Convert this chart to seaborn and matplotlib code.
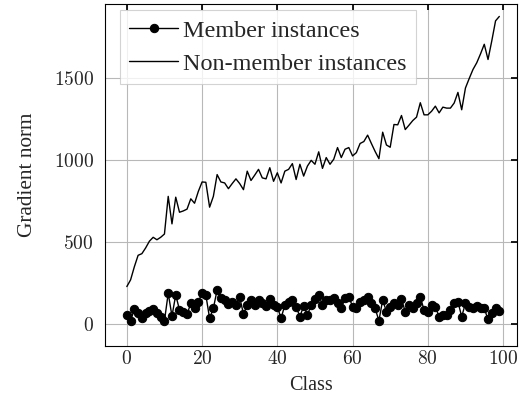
import numpy as np
import pandas as pd
import matplotlib
matplotlib.use("Agg")
import matplotlib.pyplot as plt
import seaborn as sns
from matplotlib.ticker import FuncFormatter

classes = list(range(100))
member = [55, 20, 90, 70, 40, 70, 80, 95, 65, 45,
          20, 188, 49, 178, 86, 76, 59, 127, 100, 137,
          188, 178, 35, 96, 209, 158, 150, 123, 137, 117,
          164, 61, 117, 150, 117, 150, 127, 111, 152, 117,
          106, 35, 117, 137, 147, 106, 45, 111, 55, 117,
          152, 178, 117, 147, 147, 158, 127, 96, 158, 168,
          106, 96, 137, 147, 164, 127, 96, 20, 147, 76,
          106, 127, 117, 152, 76, 117, 96, 127, 165, 86,
          76, 117, 106, 45, 55, 55, 86, 127, 137, 45,
          127, 106, 96, 111, 96, 96, 28, 66, 96, 80]
nonmember = [229, 270, 350, 420, 430, 465, 506, 530, 515, 530,
             550, 780, 612, 775, 683, 691, 702, 765, 738, 810,
             868, 866, 714, 780, 913, 868, 862, 827, 858, 887,
             858, 821, 934, 877, 910, 945, 893, 887, 955, 872,
             924, 862, 934, 945, 980, 883, 976, 904, 965, 1000,
             976, 1052, 951, 1017, 976, 1007, 1078, 1017, 1068, 1078,
             1027, 1047, 1103, 1115, 1154, 1103, 1054, 1010, 1172, 1094,
             1080, 1219, 1217, 1274, 1188, 1215, 1243, 1264, 1352, 1278,
             1278, 1300, 1331, 1290, 1325, 1319, 1319, 1350, 1415, 1309,
             1442, 1500, 1555, 1596, 1650, 1709, 1616, 1730, 1852, 1879]
xticks = [0, 20, 40, 60, 80, 100]
yticks = [0, 500, 1000, 1500]

df = pd.DataFrame({"Class": classes, "Member": member, "NonMember": nonmember})

sns.set_theme(style="white")
plt.rcParams["font.family"] = ["Liberation Serif", "DejaVu Serif"]
plt.rcParams["mathtext.fontset"] = "cm"

fig = plt.figure(figsize=(5.21, 4.08), dpi=100)
ax = fig.add_axes([105/521, 62/408, 412/521, 342/408])

sns.lineplot(data=df, x="Class", y="Member", ax=ax, color="black", lw=1.0,
             marker="o", markersize=6, markeredgecolor="black",
             label="Member instances")
sns.lineplot(data=df, x="Class", y="NonMember", ax=ax, color="black", lw=1.0,
             label="Non-member instances")

ax.set_xlim(-5.8, 103.7)
ax.set_ylim(-134, 1955)
ax.set_xticks(xticks)
ax.set_yticks(yticks)
fmt = FuncFormatter(lambda v, p: r"$%d$" % v)
ax.xaxis.set_major_formatter(fmt)
ax.yaxis.set_major_formatter(fmt)
ax.tick_params(axis="both", labelsize=14, direction="in", length=4,
               color="black", top=True, right=True)
ax.tick_params(axis="x", pad=3)
ax.tick_params(axis="y", pad=8)
ax.grid(True, color="#b8b8b8", lw=0.8)
ax.set_axisbelow(True)
for s in ax.spines.values():
    s.set_color("black")
    s.set_linewidth(0.8)

ax.set_xlabel("Class", fontsize=14.5, labelpad=6)
ax.set_ylabel("Gradient norm", fontsize=15.3, labelpad=12)

leg = ax.legend(loc="upper left", bbox_to_anchor=(0.036, 0.982), fontsize=17.4,
                frameon=True, fancybox=False, edgecolor="#c8c8c8",
                handlelength=2.0, handletextpad=0.2, borderpad=0.4,
                labelspacing=0.45, borderaxespad=0)
leg.get_frame().set_linewidth(0.8)

fig.savefig("out.png", dpi=100)
